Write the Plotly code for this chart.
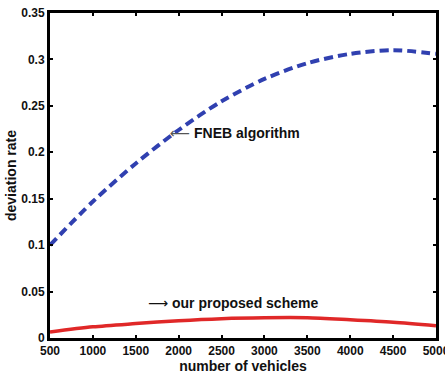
import plotly.graph_objects as go

vehicles = [500, 1000, 1500, 2000, 2500, 3000, 3500, 4000, 4500, 5000]
fneb = [0.100, 0.147, 0.188, 0.224, 0.255, 0.279, 0.296, 0.306, 0.310, 0.306]
proposed = [0.0065, 0.012, 0.0155, 0.0186, 0.0208, 0.0218, 0.0218, 0.0196, 0.0170, 0.0133]
x_ticks = [500, 1000, 1500, 2000, 2500, 3000, 3500, 4000, 4500, 5000]
y_ticks = [0, 0.05, 0.1, 0.15, 0.2, 0.25, 0.3, 0.35]
y_labels = ["0", "0.05", "0.1", "0.15", "0.2", "0.25", "0.3", "0.35"]

font = "Liberation Sans, Arial, sans-serif"

fig = go.Figure()
fig.add_trace(go.Scatter(x=vehicles, y=fneb, mode="lines",
                         line=dict(color="#3040b0", width=4, dash="9px,5px", shape="spline", smoothing=0.8),
                         name="FNEB algorithm"))
fig.add_trace(go.Scatter(x=vehicles, y=proposed, mode="lines",
                         line=dict(color="#e02828", width=3.5, shape="spline", smoothing=0.8),
                         name="our proposed scheme"))

fig.add_annotation(x=1880, y=0.2205, xref="x", yref="y",
                   text="<span style='color:#555;font-family:DejaVu Sans;font-weight:normal'>\u27f5</span> <b>FNEB algorithm</b>",
                   showarrow=False, xanchor="left", font=dict(family=font, size=14, color="#111"))
fig.add_annotation(x=1620, y=0.0375, xref="x", yref="y",
                   text="<span style='font-family:DejaVu Sans;font-weight:normal'>\u27f6</span> <b>our proposed scheme</b>",
                   showarrow=False, xanchor="left", font=dict(family=font, size=14, color="#111"))

tickfont = dict(family=font, size=12, color="#111", weight="bold")
axis_common = dict(showline=True, linecolor="black", linewidth=3, mirror="ticks", ticks="inside",
                   ticklen=3, tickwidth=2, tickcolor="black", showgrid=False, zeroline=False,
                   tickfont=tickfont, ticklabeloverflow="allow", automargin=False)

fig.update_layout(
    width=445, height=374,
    margin=dict(l=50, r=9, t=13, b=36),
    paper_bgcolor="white", plot_bgcolor="white",
    showlegend=False,
    xaxis=dict(range=[500, 5000], tickvals=x_ticks, ticktext=[str(v) for v in x_ticks],
               title=dict(text="<b>number of vehicles</b>", font=dict(family=font, size=14, color="#111"), standoff=0),
               **axis_common),
    yaxis=dict(range=[0, 0.35], tickvals=y_ticks, ticktext=y_labels,
               title=dict(text="<b>deviation rate</b>", font=dict(family=font, size=14, color="#111"), standoff=2),
               **axis_common),
)
fig.write_html("out.html")
